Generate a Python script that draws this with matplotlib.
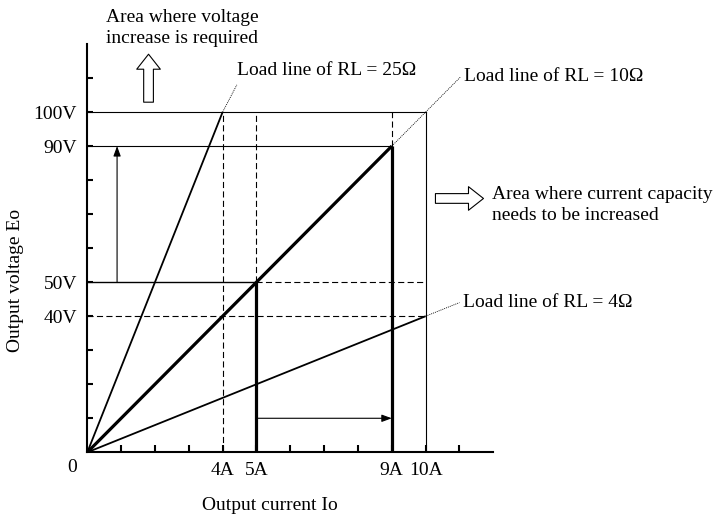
import matplotlib
matplotlib.use("Agg")
import matplotlib.pyplot as plt

plt.rcParams['font.family'] = ['Liberation Serif', 'DejaVu Serif']

# ---- data ----
load_resistances = [25, 10, 4]          # ohms
load_line_currents = [4, 9, 10]         # A, end of each solid load line
x_ticks = list(range(1, 12))
x_tick_labels = {4: '4A', 5: '5A', 9: '9A', 10: '10A'}
y_ticks = list(range(10, 120, 10))
y_tick_labels = {40: '40V', 50: '50V', 90: '90V', 100: '100V'}
i_old, v_old = 5, 50      # original operating point
i_new, v_new = 9, 90      # new operating point
i_max, v_max = 10, 100    # limits
i_low = 4                 # 4 A line
v_low = 40                # 40 V line
load_labels = ['Load line of RL = 25Ω', 'Load line of RL = 10Ω', 'Load line of RL = 4Ω']
label_pos = [(4.42, 112.3), (11.12, 110.5), (11.1, 44.0)]
leader_end = [(4.42, 108.0), (11.03, 110.3), (11.0, 44.0)]

FS = 14
W, H = 722, 515
fig = plt.figure(figsize=(W / 100, H / 100), dpi=100)
ax = fig.add_axes([87.3 / W, (H - 452.3) / H, 406 / W, 408.3 / H])
ax.set_xlim(0, 12)
ax.set_ylim(0, 120)
for s in ['top', 'right']:
    ax.spines[s].set_visible(False)
for s in ['left', 'bottom']:
    ax.spines[s].set_linewidth(1.5)

ax.set_xticks(x_ticks, labels=[x_tick_labels.get(t, '') for t in x_ticks])
ax.set_yticks(y_ticks, labels=[y_tick_labels.get(t, '') for t in y_ticks])
ax.tick_params(axis='x', direction='in', length=5, width=1.5, pad=7.0, labelsize=FS)
ax.tick_params(axis='y', direction='in', length=4.5, width=1.5, pad=7.5, labelsize=FS)

k = 'black'
thin = 0.8
dash = (0, (5.5, 3))
dot = (0, (1.2, 1.2))

# load lines
for R, I_end, lw in zip(load_resistances, load_line_currents, [1.3, 2.3, 1.3]):
    ax.plot([0, I_end], [0, R * I_end], color=k, lw=lw, solid_capstyle='butt')

# horizontal reference lines
ax.plot([0, i_max], [v_max, v_max], color=k, lw=thin)
ax.plot([0, i_new], [v_new, v_new], color=k, lw=thin)
ax.plot([0, i_old], [v_old, v_old], color=k, lw=1.0)
ax.plot([i_old, i_max], [v_old, v_old], color=k, lw=thin, ls=dash)
ax.plot([0, i_max], [v_low, v_low], color=k, lw=thin, ls=dash)

# vertical reference lines
ax.plot([i_low, i_low], [0, v_max], color=k, lw=thin, ls=dash)
ax.plot([i_old, i_old], [v_old, v_max], color=k, lw=thin, ls=dash)
ax.plot([i_new, i_new], [v_new, v_max], color=k, lw=thin, ls=dash)
ax.plot([i_max, i_max], [0, v_max], color=k, lw=thin)
ax.plot([i_old, i_old], [0, v_old], color=k, lw=2.3, solid_capstyle='butt')
ax.plot([i_new, i_new], [0, v_new], color=k, lw=2.3, solid_capstyle='butt')

# leaders and labels
starts = [(load_line_currents[0], load_resistances[0] * load_line_currents[0]),
          (i_new, v_new),
          (load_line_currents[2], load_resistances[2] * load_line_currents[2])]
for (x0, y0), (x1, y1), (tx, ty), lab in zip(starts, leader_end, label_pos, load_labels):
    ax.plot([x0, x1], [y0, y1], color=k, lw=0.6, ls=dot)
    ax.text(tx, ty, lab, ha='left', va='center', fontsize=FS)

# thin arrows
ax.annotate('', xy=(0.88, v_new), xytext=(0.88, v_old),
            arrowprops=dict(arrowstyle='-|>,head_length=0.6,head_width=0.22',
                            color=k, lw=0.8, shrinkA=0, shrinkB=0))
ax.annotate('', xy=(i_new, 10), xytext=(i_old + 0.05, 10),
            arrowprops=dict(arrowstyle='-|>,head_length=0.6,head_width=0.22',
                            color=k, lw=0.8, shrinkA=0, shrinkB=0))

# hollow block arrows
hollow = dict(arrowstyle='simple,head_length=10.8,head_width=17,tail_width=7',
              mutation_scale=1, fc='white', ec=k, lw=0.8, shrinkA=0, shrinkB=0)
ax.annotate('', xy=(1.81, 117.0), xytext=(1.81, 102.9), arrowprops=hollow,
            annotation_clip=False)
ax.annotate('', xy=(11.71, 74.6), xytext=(10.29, 74.6), arrowprops=hollow,
            annotation_clip=False)

ax.text(0.55, 124.8, 'Area where voltage\nincrease is required', ha='left', va='center',
        fontsize=FS, linespacing=1.3)
ax.text(11.97, 72.8, 'Area where current capacity\nneeds to be increased', ha='left',
        va='center', fontsize=FS, linespacing=1.32)

ax.text(-0.45, -4.6, '0', ha='center', va='center', fontsize=FS)
ax.text(5.39, -15.5, 'Output current Io', ha='center', va='center', fontsize=FS)
ax.text(-2.13, 50.4, 'Output voltage Eo', ha='center', va='center', fontsize=FS,
        rotation=90)

fig.savefig('out.png', dpi=100)
